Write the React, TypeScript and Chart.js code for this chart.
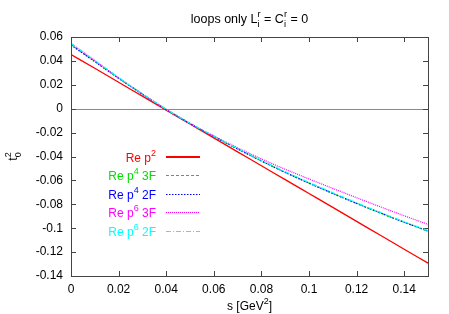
import React, { useEffect, useRef } from 'react';
import { Chart, registerables } from 'chart.js';

Chart.register(...registerables);

// ---- data ----
const sValues = [0, 0.01, 0.02, 0.03, 0.04, 0.05, 0.06, 0.07, 0.08, 0.09, 0.1, 0.11, 0.12, 0.13, 0.14, 0.15];
const reP2 = [0.0454, 0.0338, 0.0221, 0.0105, -0.0012, -0.0128, -0.0244, -0.0361, -0.0477, -0.0594, -0.071, -0.0826, -0.0943, -0.1059, -0.1176, -0.1292];
const reP4_3F = [0.0536, 0.0396, 0.0256, 0.0122, -0.0006, -0.0124, -0.0232, -0.0337, -0.0437, -0.0533, -0.0623, -0.0709, -0.0793, -0.0873, -0.0951, -0.1025];
const reP4_2F = [0.0533, 0.0394, 0.0255, 0.0121, -0.0006, -0.0124, -0.0232, -0.0337, -0.0437, -0.0533, -0.0623, -0.0709, -0.0792, -0.0872, -0.095, -0.1024];
const reP6_3F = [0.0546, 0.0402, 0.0259, 0.0123, -0.0006, -0.0123, -0.0228, -0.0327, -0.042, -0.0507, -0.0588, -0.0667, -0.0745, -0.0821, -0.0896, -0.0968];
const reP6_2F = [0.0548, 0.0404, 0.0261, 0.0124, -0.0005, -0.0122, -0.0229, -0.0333, -0.0432, -0.0527, -0.0617, -0.0703, -0.0787, -0.0868, -0.0946, -0.102];

const seriesLabels = ['Re p^2', 'Re p^4 3F', 'Re p^4 2F', 'Re p^6 3F', 'Re p^6 2F'];
const seriesColors = ['#ff0000', '#00dd00', '#0000ff', '#ff00ff', '#00ffff'];
const seriesDashes: number[][] = [[], [3, 2], [1.5, 1.5], [1, 1], [5, 2, 1, 2]];
const xTickStep = 0.02;
const yTickStep = 0.02;

const FONT = '"Liberation Sans", Arial, Helvetica, sans-serif';

type Seg = { t: string; sup?: string; sub?: string };

function parseLabel(str: string): Seg[] {
  const segs: Seg[] = [];
  const re = /([^^]*)\^(\S)/g;
  let last = 0;
  let m: RegExpExecArray | null;
  while ((m = re.exec(str)) !== null) {
    segs.push({ t: m[1], sup: m[2] });
    last = re.lastIndex;
  }
  if (last < str.length) segs.push({ t: str.slice(last) });
  return segs;
}

function richWidth(ctx: CanvasRenderingContext2D, segs: Seg[], size: number) {
  let w = 0;
  for (const s of segs) {
    ctx.font = `${size}px ${FONT}`;
    w += ctx.measureText(s.t).width;
    ctx.font = `${size * 0.75}px ${FONT}`;
    const a = s.sup ? ctx.measureText(s.sup).width : 0;
    const b = s.sub ? ctx.measureText(s.sub).width : 0;
    w += Math.max(a, b);
  }
  return w;
}

function drawRich(ctx: CanvasRenderingContext2D, segs: Seg[], x: number, y: number, size: number, color: string) {
  ctx.fillStyle = color;
  ctx.textBaseline = 'alphabetic';
  ctx.textAlign = 'left';
  let cx = x;
  for (const s of segs) {
    ctx.font = `${size}px ${FONT}`;
    ctx.fillText(s.t, cx, y);
    cx += ctx.measureText(s.t).width;
    ctx.font = `${size * 0.75}px ${FONT}`;
    let w = 0;
    if (s.sup) {
      ctx.fillText(s.sup, cx, y - size * 0.5);
      w = Math.max(w, ctx.measureText(s.sup).width);
    }
    if (s.sub) {
      ctx.fillText(s.sub, cx, y + size * 0.3);
      w = Math.max(w, ctx.measureText(s.sub).width);
    }
    cx += w;
  }
}

const fmt = (v: number) => String(Number(v.toFixed(4)));
const onStep = (v: number, step: number) => Math.abs(v / step - Math.round(v / step)) < 1e-6;

const decorPlugin = {
  id: 'decor',
  beforeDatasetsDraw(chart: any) {
    const { ctx, chartArea: a, scales } = chart;
    ctx.save();
    // zero axis
    const y0 = Math.round(scales.y.getPixelForValue(0)) + 0.5;
    ctx.strokeStyle = '#8a8a8a';
    ctx.lineWidth = 1.2;
    ctx.beginPath();
    ctx.moveTo(a.left, y0);
    ctx.lineTo(a.right, y0);
    ctx.stroke();
    // ticks on all four sides
    ctx.strokeStyle = '#444';
    ctx.lineWidth = 1;
    const tl = 5;
    ctx.beginPath();
    for (const t of scales.x.ticks) {
      const px = Math.round(scales.x.getPixelForValue(t.value)) + 0.5;
      ctx.moveTo(px, a.bottom);
      ctx.lineTo(px, a.bottom - tl);
      ctx.moveTo(px, a.top);
      ctx.lineTo(px, a.top + tl);
    }
    for (const t of scales.y.ticks) {
      const py = Math.round(scales.y.getPixelForValue(t.value)) + 0.5;
      ctx.moveTo(a.left, py);
      ctx.lineTo(a.left + tl, py);
      ctx.moveTo(a.right, py);
      ctx.lineTo(a.right - tl, py);
    }
    ctx.stroke();
    ctx.restore();
  },
  afterDraw(chart: any) {
    const { ctx, chartArea: a } = chart;
    ctx.save();
    // frame
    ctx.strokeStyle = '#444';
    ctx.lineWidth = 1;
    ctx.strokeRect(Math.round(a.left) + 0.5, Math.round(a.top) + 0.5, Math.round(a.right - a.left), Math.round(a.bottom - a.top));

    const cx = (a.left + a.right) / 2;
    // title
    const title: Seg[] = [{ t: 'loops only L', sup: 'r', sub: 'i' }, { t: ' = C', sup: 'r', sub: 'i' }, { t: ' = 0' }];
    const tw = richWidth(ctx, title, 12.5);
    drawRich(ctx, title, cx - tw / 2, 23, 12.5, '#000');
    // x title
    const xt: Seg[] = [{ t: 's [GeV', sup: '2' }, { t: ']' }];
    const xw = richWidth(ctx, xt, 12);
    drawRich(ctx, xt, cx - xw / 2, 310, 12, '#000');
    // y title (rotated)
    const yt: Seg[] = [{ t: 't', sup: '2', sub: '0' }];
    const yw = richWidth(ctx, yt, 12);
    ctx.save();
    ctx.translate(17, (a.top + a.bottom) / 2);
    ctx.rotate(-Math.PI / 2);
    drawRich(ctx, yt, -yw / 2, 0, 12, '#000');
    ctx.restore();

    // legend
    const right = 156;
    const sx0 = 166;
    const sx1 = 200;
    const rowY0 = 156.5;
    const rowStep = 18.5;
    chart.data.datasets.forEach((ds: any, i: number) => {
      const ly = rowY0 + i * rowStep;
      const segs = parseLabel(ds.label);
      const w = richWidth(ctx, segs, 12);
      drawRich(ctx, segs, right - w, ly + 5, 12, ds.borderColor);
      ctx.strokeStyle = ds.borderColor;
      ctx.lineWidth = i === 0 ? 2 : 1;
      ctx.setLineDash(ds.borderDash || []);
      ctx.beginPath();
      const yy = i === 0 ? Math.round(ly) : Math.round(ly) + 0.5;
      ctx.moveTo(sx0, yy);
      ctx.lineTo(sx1, yy);
      ctx.stroke();
      ctx.setLineDash([]);
    });
    ctx.restore();
  },
};

export default function App() {
  const ref = useRef<HTMLCanvasElement | null>(null);
  useEffect(() => {
    if (!ref.current) return;
    const series = [reP2, reP4_3F, reP4_2F, reP6_3F, reP6_2F];
    const chart = new Chart(ref.current, {
      type: 'line',
      data: {
        datasets: series.map((vals, i) => ({
          label: seriesLabels[i],
          data: sValues.map((s, k) => ({ x: s, y: vals[k] })),
          borderColor: seriesColors[i],
          borderWidth: i === 0 ? 1.3 : 1.2,
          borderDash: seriesDashes[i],
          pointRadius: 0,
          fill: false,
          cubicInterpolationMode: 'monotone' as const,
          order: series.length - 1 - i,
        })),
      },
      options: {
        animation: false,
        responsive: false,
        events: [],
        layout: { padding: { top: 37, right: 21, left: 0, bottom: 0 } },
        plugins: { legend: { display: false }, title: { display: false }, tooltip: { enabled: false } },
        scales: {
          x: {
            type: 'linear',
            min: 0,
            max: 0.15,
            grid: { display: false, drawTicks: false },
            border: { display: false },
            ticks: {
              stepSize: xTickStep,
              includeBounds: false,
              autoSkip: false,
              maxRotation: 0,
              padding: 6,
              color: '#000',
              font: { family: FONT, size: 12 },
              callback: (v: any) => fmt(Number(v)),
            },
            afterBuildTicks: (s: any) => {
              s.ticks = s.ticks.filter((t: any) => onStep(t.value, xTickStep));
            },
            afterFit: (s: any) => {
              s.height = 38;
            },
          },
          y: {
            type: 'linear',
            min: -0.14,
            max: 0.06,
            grid: { display: false, drawTicks: false },
            border: { display: false },
            ticks: {
              stepSize: yTickStep,
              includeBounds: false,
              padding: 8,
              color: '#000',
              font: { family: FONT, size: 12 },
              callback: (v: any) => fmt(Number(v)),
            },
            afterBuildTicks: (s: any) => {
              s.ticks = s.ticks.filter((t: any) => onStep(t.value, yTickStep));
            },
            afterFit: (s: any) => {
              s.width = 71;
            },
          },
        },
      },
      plugins: [decorPlugin],
    });
    return () => chart.destroy();
  }, []);
  return (
    <div style={{ position: 'fixed', left: 0, top: 0, width: 449, height: 314, background: '#fff' }}>
      <canvas ref={ref} width={449} height={314} style={{ display: 'block' }} />
    </div>
  );
}
